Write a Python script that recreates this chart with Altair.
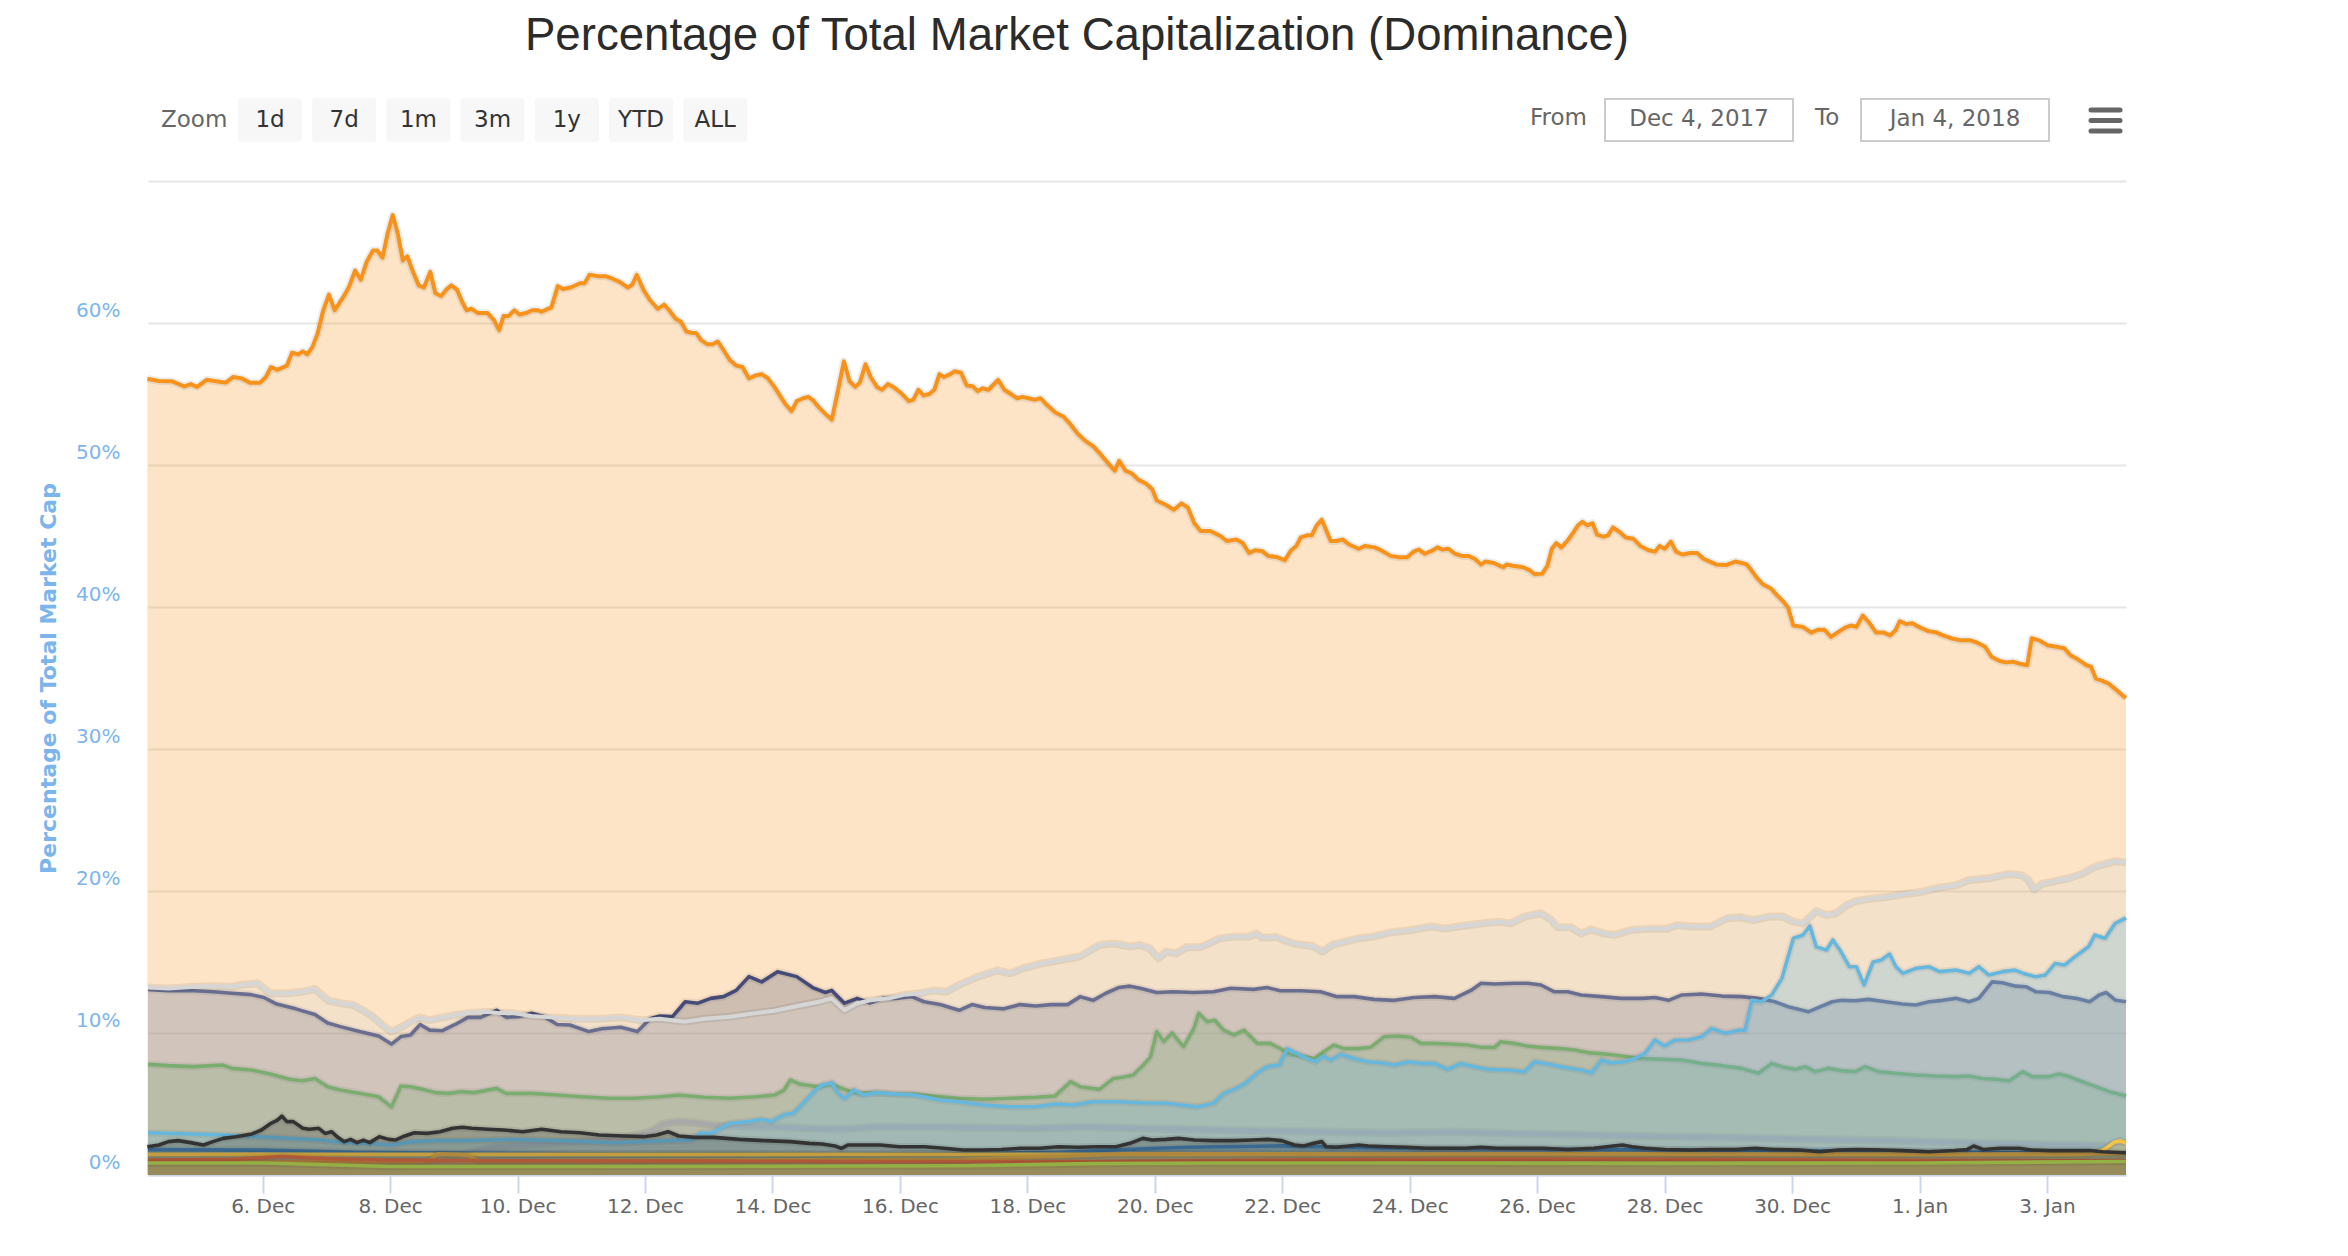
import altair as alt
import pandas as pd

# ---------------- data (days since 2017-12-04 00:00 UTC, percent of total market cap) -------------
btc_days = [0.19,0.37,0.57,0.77,0.87,0.97,1.12,1.27,1.42,1.54,1.67,1.80,1.96,2.05,2.13,2.23,2.38,2.46,2.56,2.63,
            2.70,2.78,2.86,2.95,3.04,3.13,3.26,3.35,3.45,3.54,3.63,3.73,3.80,3.88,3.96,4.04,4.12,4.20,4.27,4.36,
            4.45,4.53,4.63,4.71,4.80,4.88,4.96,5.05,5.13,5.20,5.28,5.38,5.53,5.63,5.71,5.78,5.86,5.95,6.03,6.13,
            6.23,6.31,6.38,6.53,6.63,6.71,6.83,6.98,7.05,7.13,7.26,7.38,7.50,7.60,7.73,7.80,7.87,7.98,8.08,8.20,
            8.30,8.38,8.48,8.56,8.65,8.74,8.80,8.88,8.98,9.06,9.14,9.23,9.33,9.43,9.53,9.63,9.73,9.83,9.93,10.03,
            10.13,10.21,10.30,10.38,10.48,10.56,10.64,10.74,10.83,10.93,11.03,11.12,11.21,11.30,11.37,11.46,11.54,11.64,11.72,11.81,
            11.91,12.01,12.14,12.21,12.29,12.37,12.46,12.54,12.62,12.69,12.79,12.86,12.96,13.05,13.14,13.22,13.29,13.39,13.54,13.64,
            13.74,13.84,13.92,14.02,14.11,14.21,14.29,14.44,14.57,14.67,14.79,14.91,15.04,15.14,15.27,15.37,15.44,15.54,15.64,15.74,
            15.86,15.96,16.03,16.17,16.30,16.42,16.52,16.62,16.72,16.87,17.03,17.13,17.28,17.38,17.48,17.58,17.68,17.78,17.93,18.04,
            18.14,18.22,18.29,18.39,18.46,18.54,18.62,18.69,18.76,18.84,18.95,19.05,19.20,19.30,19.45,19.55,19.70,19.83,19.96,20.06,
            20.14,20.24,20.34,20.44,20.51,20.61,20.71,20.82,20.92,21.02,21.12,21.19,21.32,21.42,21.47,21.52,21.62,21.78,21.88,21.96,
            22.08,22.16,22.23,22.30,22.38,22.48,22.56,22.64,22.71,22.79,22.87,22.94,23.04,23.11,23.19,23.29,23.39,23.51,23.62,23.75,
            23.85,23.92,24.00,24.10,24.18,24.28,24.40,24.51,24.61,24.71,24.81,24.96,25.11,25.21,25.29,25.36,25.44,25.54,25.67,25.77,
            25.87,25.94,26.02,26.17,26.30,26.41,26.51,26.61,26.71,26.83,26.93,27.01,27.11,27.21,27.32,27.44,27.54,27.62,27.69,27.79,
            27.89,27.99,28.14,28.27,28.37,28.50,28.65,28.80,28.90,29.03,29.13,29.26,29.36,29.46,29.58,29.69,29.76,29.88,30.01,30.15,
            30.27,30.37,30.49,30.62,30.69,30.77,30.87,30.97,31.08,31.18,31.24]
btc_pct = [56.08,55.92,55.9,55.54,55.7,55.5,56.0,55.9,55.8,56.2,56.1,55.8,55.8,56.2,56.9,56.7,57.0,57.9,57.8,58.0,
           57.8,58.3,59.25,60.9,62.0,60.9,61.8,62.5,63.7,63.05,64.3,65.1,65.1,64.6,66.3,67.6,66.3,64.4,64.7,63.6,
           62.65,62.5,63.6,62.1,61.9,62.35,62.65,62.35,61.5,60.9,61.0,60.7,60.7,60.2,59.5,60.5,60.5,60.9,60.6,60.7,
           60.9,60.9,60.8,61.1,62.6,62.4,62.5,62.8,62.8,63.4,63.3,63.3,63.1,62.9,62.5,62.7,63.4,62.3,61.6,61.0,
           61.3,60.9,60.3,60.1,59.4,59.3,59.3,58.8,58.5,58.5,58.7,58.1,57.4,57.0,56.9,56.1,56.3,56.4,56.1,55.5,
           54.8,54.25,53.8,54.5,54.7,54.8,54.55,54.0,53.6,53.2,55.3,57.3,55.9,55.5,55.8,57.1,56.2,55.5,55.3,55.7,
           55.45,55.1,54.5,54.6,55.3,54.9,55.0,55.3,56.4,56.2,56.4,56.6,56.5,55.6,55.55,55.2,55.4,55.3,56.0,55.3,
           55.0,54.7,54.8,54.7,54.6,54.7,54.3,53.7,53.4,52.9,52.2,51.7,51.3,50.8,50.1,49.6,50.3,49.6,49.4,48.97,
           48.7,48.3,47.5,47.2,46.85,47.3,47.0,45.9,45.35,45.35,45.0,44.65,44.75,44.5,43.8,44.0,43.95,43.6,43.5,43.3,
           44.0,44.3,44.9,45.05,45.05,45.75,46.15,45.4,44.65,44.65,44.75,44.4,44.1,44.3,44.2,44.0,43.6,43.5,43.5,43.9,
           44.05,43.75,43.95,44.2,44.05,44.1,43.75,43.6,43.6,43.4,43.0,43.2,43.1,42.9,42.8,43.0,42.9,42.8,42.6,42.3,
           42.35,42.9,44.1,44.5,44.2,44.7,45.2,45.75,46.0,45.75,45.9,45.1,44.95,45.05,45.6,45.3,44.9,44.8,44.3,44.0,
           43.9,44.3,44.1,44.6,43.9,43.7,43.8,43.8,43.4,43.2,43.0,42.95,43.2,43.1,43.0,42.6,42.1,41.6,41.3,40.8,
           40.35,39.95,38.7,38.6,38.2,38.4,38.4,37.9,38.2,38.55,38.7,38.6,39.4,38.9,38.2,38.2,38.0,38.35,39.0,38.8,
           38.85,38.6,38.3,38.2,38.0,37.8,37.65,37.65,37.5,37.2,36.5,36.2,36.1,36.15,36.0,35.9,37.8,37.65,37.3,37.2,
           37.1,36.6,36.3,35.9,35.8,34.95,34.8,34.6,34.2,33.8,33.6]

oth_days = [0.20,0.52,0.92,1.22,1.52,1.67,1.92,2.12,2.42,2.62,2.82,3.02,3.22,3.42,3.57,3.72,3.87,4.02,4.17,4.32,
            4.47,4.62,4.82,5.02,5.22,5.52,5.72,5.92,6.22,6.52,6.92,7.32,7.62,7.93,8.23,8.63,8.93,9.33,9.73,10.03,
            10.33,10.73,10.93,11.13,11.33,11.53,11.83,12.08,12.33,12.53,12.73,12.93,13.23,13.53,13.73,13.93,14.23,14.53,14.83,15.13,
            15.38,15.61,15.76,15.92,16.06,16.18,16.34,16.49,16.70,16.86,17.01,17.22,17.48,17.59,17.69,17.90,18.05,18.21,18.47,18.63,
            18.78,18.99,19.20,19.41,19.72,20.03,20.34,20.55,20.76,21.07,21.39,21.59,21.80,22.06,22.22,22.32,22.53,22.69,22.84,23.05,
            23.21,23.47,23.78,24.04,24.20,24.40,24.72,24.98,25.18,25.39,25.65,25.86,26.02,26.17,26.38,26.54,26.69,26.85,27.01,27.27,
            27.53,27.79,28.05,28.26,28.57,28.78,29.09,29.40,29.61,29.71,29.80,29.92,30.13,30.34,30.55,30.75,31.07,31.24]
oth_pct = [13.2,13.14,13.26,13.3,13.26,13.4,13.5,12.8,12.8,12.9,13.1,12.3,12.1,11.97,11.6,11.2,10.6,10.09,10.4,10.8,
           11.1,10.9,11.1,11.27,11.4,11.5,11.4,11.4,11.2,11.1,11.0,11.0,11.1,10.9,11.0,10.8,11.0,11.15,11.4,11.57,
           11.85,12.2,12.44,11.6,12.1,12.3,12.44,12.7,12.8,13.0,12.9,13.4,13.97,14.4,14.2,14.55,14.9,15.14,15.4,16.2,
           16.3,16.08,16.2,15.96,15.26,15.73,15.6,16.03,16.03,16.3,16.65,16.77,16.8,17.0,16.7,16.77,16.5,16.27,16.13,15.73,
           16.2,16.43,16.67,16.77,17.1,17.25,17.5,17.35,17.5,17.68,17.84,17.72,18.2,18.43,17.96,17.44,17.44,17.0,17.3,17.0,
           16.9,17.25,17.35,17.35,17.6,17.5,17.5,18.08,18.15,17.96,18.2,18.2,17.84,17.72,18.6,18.3,18.43,19.0,19.3,19.48,
           19.6,19.8,19.95,20.2,20.4,20.77,20.9,21.2,21.1,20.77,20.1,20.5,20.7,20.9,21.2,21.7,22.1,22.0]

eth_days = [0.20,0.52,0.92,1.22,1.52,1.82,2.02,2.22,2.52,2.82,3.02,3.22,3.52,3.82,4.02,4.17,4.32,4.47,4.62,4.82,
            5.02,5.22,5.42,5.67,5.82,6.02,6.22,6.42,6.62,6.82,7.12,7.32,7.62,7.88,8.08,8.23,8.43,8.63,8.83,9.03,
            9.23,9.43,9.63,9.83,10.08,10.38,10.63,10.83,10.93,11.13,11.33,11.53,11.73,11.93,12.18,12.38,12.63,12.93,13.13,13.33,
            13.63,13.88,14.13,14.38,14.63,14.83,15.03,15.23,15.43,15.61,15.77,16.03,16.29,16.61,16.92,17.19,17.55,17.76,17.97,18.29,
            18.60,18.86,19.13,19.44,19.76,20.07,20.39,20.70,20.96,21.12,21.33,21.64,21.85,22.06,22.27,22.48,22.69,23.01,23.32,23.64,
            23.85,24.06,24.27,24.58,24.90,25.21,25.47,25.73,25.94,26.10,26.26,26.42,26.63,26.78,26.99,27.20,27.47,27.73,27.94,28.15,
            28.36,28.57,28.78,28.93,29.14,29.30,29.51,29.67,29.83,30.04,30.25,30.46,30.67,30.82,30.93,31.08,31.24]
eth_pct = [13.07,12.98,12.98,12.9,12.8,12.7,12.5,12.04,11.7,11.3,10.7,10.45,10.1,9.79,9.22,9.75,9.86,10.6,10.2,10.16,
           10.6,11.1,11.1,11.6,11.1,11.15,11.4,11.15,10.6,10.56,10.1,10.3,10.4,10.1,11.0,11.2,11.15,12.2,12.1,12.44,
           12.56,13.0,13.97,13.6,14.32,13.97,13.2,12.85,13.0,12.1,12.44,12.1,12.44,12.44,12.56,12.2,12.0,11.6,12.0,11.8,
           11.7,12.0,11.9,12.0,12.0,12.56,12.3,12.8,13.2,13.3,13.15,12.85,12.9,12.85,12.9,13.15,13.07,13.2,12.98,12.98,
           12.9,12.56,12.56,12.37,12.3,12.5,12.56,12.44,13.0,13.5,13.45,13.5,13.5,13.38,12.9,12.9,12.68,12.56,12.44,12.44,
           12.5,12.3,12.68,12.75,12.6,12.56,12.44,12.2,11.85,11.67,11.5,11.8,12.2,12.3,12.27,12.37,12.2,12.04,11.97,12.2,
           12.3,12.44,12.2,12.44,13.6,13.54,13.3,13.26,12.9,12.85,12.56,12.44,12.2,12.68,12.85,12.3,12.2]

bch_days = [0.20,0.52,0.92,1.37,1.52,1.82,2.12,2.42,2.62,2.82,3.02,3.22,3.52,3.82,4.02,4.17,4.32,4.52,4.72,4.92,
            5.12,5.32,5.67,5.82,6.22,6.62,7.02,7.42,7.83,8.23,8.53,8.93,9.33,9.73,10.03,10.18,10.28,10.43,10.73,10.93,
            11.13,11.33,11.63,11.93,12.23,12.53,12.93,13.33,13.73,14.13,14.43,14.68,14.83,15.13,15.35,15.51,15.66,15.82,15.93,16.03,
            16.14,16.27,16.45,16.61,16.69,16.82,16.94,17.08,17.24,17.40,17.61,17.81,17.97,18.13,18.29,18.50,18.65,18.81,18.97,19.18,
            19.39,19.60,19.81,20.02,20.18,20.39,20.65,20.91,21.12,21.33,21.43,21.64,21.85,22.06,22.38,22.59,22.80,23.11,23.43,23.64,
            23.95,24.27,24.58,24.90,25.21,25.47,25.68,25.84,26.05,26.21,26.36,26.57,26.78,26.99,27.15,27.36,27.62,27.94,28.25,28.57,
            28.78,28.99,29.20,29.41,29.62,29.77,30.04,30.19,30.35,30.56,30.77,30.98,31.19,31.24]
bch_pct = [7.79,7.7,7.63,7.75,7.51,7.4,7.11,6.74,6.64,6.8,6.22,5.98,5.75,5.51,4.8,6.27,6.22,6.03,5.8,5.75,
           5.87,5.8,6.1,5.75,5.75,5.63,5.51,5.4,5.4,5.51,5.63,5.47,5.4,5.51,5.63,5.98,6.69,6.4,6.22,6.4,
           6.03,5.75,5.8,5.7,5.7,5.56,5.4,5.33,5.4,5.47,5.56,6.57,6.22,6.03,6.8,6.9,7.04,7.75,8.3,10.09,
           9.4,10.0,9.04,10.3,11.39,10.8,10.9,10.2,9.86,10.2,9.27,9.27,8.9,8.47,8.4,8.2,8.68,9.15,8.9,8.9,
           9.0,9.74,9.79,9.7,9.27,9.27,9.22,9.15,9.0,8.99,9.39,9.27,9.08,8.99,8.9,8.8,8.62,8.5,8.33,8.2,
           8.15,8.1,7.86,7.7,7.51,7.17,7.86,7.63,7.44,7.63,7.28,7.51,7.35,7.28,7.63,7.28,7.17,7.04,6.97,6.93,
           6.97,6.8,6.74,6.64,7.28,6.93,6.93,7.11,6.93,6.57,6.22,5.87,5.63,5.55]

xrp_days = [0.20,0.92,1.42,1.92,2.42,2.92,3.32,3.72,4.02,4.32,4.72,5.12,5.52,5.92,6.32,6.72,7.12,7.52,7.93,8.33,
            8.73,8.88,9.03,9.18,9.33,9.63,9.83,9.98,10.18,10.33,10.48,10.68,10.78,10.93,11.03,11.13,11.28,11.43,11.63,11.93,
            12.23,12.63,12.93,13.33,13.73,14.13,14.43,14.73,15.03,15.45,15.77,16.19,16.66,16.92,17.08,17.24,17.40,17.61,17.76,17.95,
            18.08,18.23,18.39,18.52,18.65,18.76,18.92,19.13,19.34,19.55,19.76,19.97,20.18,20.39,20.59,20.80,21.01,21.22,21.54,21.80,
            21.96,22.17,22.38,22.69,22.85,23.01,23.16,23.37,23.53,23.69,23.85,24.00,24.16,24.37,24.58,24.74,24.95,25.16,25.26,25.37,
            25.52,25.68,25.84,26.02,26.17,26.28,26.38,26.54,26.64,26.75,26.90,27.01,27.13,27.27,27.40,27.53,27.63,27.74,27.94,28.15,
            28.31,28.57,28.78,28.93,29.09,29.30,29.50,29.66,29.82,29.97,30.13,30.28,30.44,30.65,30.75,30.91,31.07,31.24]
xrp_pct = [2.98,2.89,2.82,2.7,2.58,2.46,2.27,2.23,2.11,2.35,2.42,2.42,2.46,2.51,2.46,2.42,2.35,2.27,2.35,2.42,
           2.46,2.98,2.93,3.29,3.64,3.76,3.92,3.76,4.24,4.36,5.05,6.0,6.34,6.5,5.75,5.4,6.0,5.63,5.8,5.7,
           5.63,5.28,5.16,4.93,4.81,4.81,5.0,4.93,5.16,5.16,5.09,5.05,4.81,5.05,5.75,6.03,6.4,7.2,7.63,7.75,
           8.9,8.57,8.2,7.98,8.38,8.1,8.5,8.2,7.98,7.9,7.75,7.98,7.86,7.86,7.44,7.86,7.63,7.44,7.39,7.28,
           7.98,7.82,7.63,7.39,7.2,8.1,7.9,7.98,8.2,8.57,9.51,9.09,9.51,9.51,9.74,10.33,9.98,10.2,10.2,12.32,
           12.2,12.68,13.85,16.67,16.9,17.54,16.07,15.85,16.55,15.85,14.67,14.67,13.38,15.0,15.14,15.56,14.67,14.2,14.55,14.67,
           14.32,14.43,14.2,14.67,14.08,14.32,14.43,14.15,13.96,14.08,14.9,14.79,15.38,16.07,16.9,16.67,17.72,18.1]

blk_days = [0.19,0.37,0.52,0.67,0.87,1.07,1.22,1.38,1.58,1.83,1.98,2.13,2.23,2.30,2.38,2.48,2.63,2.73,2.88,2.98,
            3.08,3.18,3.28,3.38,3.48,3.58,3.68,3.83,3.98,4.08,4.23,4.38,4.58,4.78,4.98,5.13,5.28,5.53,5.78,6.08,
            6.38,6.68,6.98,7.28,7.68,7.98,8.18,8.36,8.53,8.78,9.08,9.48,9.88,10.28,10.58,10.78,10.98,11.08,11.18,11.39,
            11.69,11.99,12.39,12.69,12.99,13.29,13.59,13.89,14.19,14.49,14.79,15.09,15.39,15.61,15.81,15.96,16.17,16.37,16.62,16.92,
            17.23,17.53,17.78,17.99,18.19,18.34,18.49,18.62,18.69,18.84,19.05,19.20,19.35,19.65,19.96,20.26,20.56,20.87,21.12,21.37,
            21.68,22.08,22.48,22.89,23.19,23.34,23.49,23.70,24.00,24.40,24.71,25.11,25.42,25.72,26.12,26.43,26.73,27.03,27.44,27.74,
            28.14,28.55,28.75,28.85,29.00,29.26,29.56,29.76,30.06,30.37,30.67,30.87,31.18,31.24]
blk_pct = [1.99,2.11,2.35,2.42,2.28,2.11,2.35,2.58,2.7,2.89,3.17,3.64,3.87,4.15,3.76,3.76,3.29,3.22,3.29,2.93,
           3.05,2.65,2.35,2.51,2.28,2.46,2.28,2.7,2.51,2.46,2.75,2.98,2.93,3.05,3.29,3.36,3.29,3.22,3.17,3.05,
           3.22,3.05,2.98,2.82,2.75,2.7,2.82,3.05,2.75,2.65,2.65,2.51,2.42,2.35,2.23,2.18,2.04,1.88,2.11,2.11,
           2.11,1.99,1.99,1.88,1.76,1.76,1.8,1.88,1.88,1.99,1.95,1.99,1.99,2.23,2.58,2.46,2.51,2.58,2.46,2.42,
           2.42,2.46,2.51,2.42,2.11,2.04,2.23,2.35,1.99,1.95,2.04,2.11,2.04,1.99,1.95,1.88,1.88,1.88,1.95,1.88,
           1.88,1.88,1.8,1.88,2.04,2.11,1.99,1.88,1.8,1.76,1.8,1.8,1.88,1.8,1.76,1.64,1.76,1.8,1.76,1.72,
           1.64,1.72,1.8,2.04,1.8,1.88,1.88,1.76,1.72,1.72,1.72,1.64,1.57,1.57]

gry_days = [0.20,2.0,4.0,4.58,4.88,5.28,5.68,6.08,6.48,6.88,7.28,7.68,7.98,8.13,8.28,8.48,8.78,9.08,9.58,10.08,
            10.58,11.09,11.59,12.09,13.09,14.09,14.89,15.77,17.63,19.65,20.66,21.68,23.70,25.72,27.74,28.75,29.76,31.24]
gry_pct = [0.6,0.6,0.6,0.7,1.05,1.64,1.99,2.11,2.23,2.35,2.46,2.65,2.93,3.17,3.6,3.76,3.69,3.52,3.45,3.4,
           3.29,3.22,3.4,3.4,3.36,3.29,3.4,3.29,3.12,2.98,3.05,2.93,2.75,2.58,2.42,2.28,2.18,2.04]

blu_days = [0.20,2.0,3.5,5.0,7.0,9.0,11.0,13.0,14.5,15.5,16.5,18.0,19.5,21.0,23.0,25.0,27.0,29.0,31.24]
blu_pct = [1.8,1.75,1.6,1.55,1.5,1.5,1.45,1.5,1.6,1.8,1.95,2.05,1.9,1.85,1.8,1.75,1.7,1.6,1.5]

ylw_days = [0.20,30.5,30.7,30.9,31.05,31.15,31.24]
ylw_pct = [1.45,1.45,1.5,1.8,2.3,2.4,2.25]

gld_days = [0.20,4.6,4.75,4.95,5.2,5.4,9.0,13.0,14.5,15.5,17.0,20.0,23.0,26.0,29.0,30.8,31.24]
gld_pct = [0.9,0.95,1.5,1.45,1.4,1.0,1.05,1.1,1.3,1.5,1.5,1.45,1.5,1.45,1.45,1.5,1.5]

red_days = [0.20,1.5,2.3,3.0,4.0,6.0,9.0,12.0,15.0,18.0,21.0,24.0,27.0,30.0,31.24]
red_pct = [1.05,1.1,1.3,1.15,1.05,1.0,0.98,0.95,0.95,1.05,1.12,1.1,1.05,1.0,1.0]

ygn_days = [0.20,2.0,4.0,7.0,10.0,13.0,15.0,17.0,20.0,24.0,28.0,31.24]
ygn_pct = [0.85,0.85,0.6,0.6,0.62,0.65,0.8,0.85,0.85,0.82,0.85,0.95]

x_tick_days = [2, 4, 6, 8, 10, 12, 14, 16, 18, 20, 22, 24, 26, 28, 30]
y_ticks = [0, 10, 20, 30, 40, 50, 60, 70]
zoom_buttons = ["1d", "7d", "1m", "3m", "1y", "YTD", "ALL"]

# ---------------- helpers ----------------
BASE = pd.Timestamp("2017-12-04T00:00:00Z")


def to_ms(days):
    return [int((BASE + pd.Timedelta(days=float(d))).value // 10**6) for d in days]


X_DOMAIN = to_ms([0.2, 31.24])
x_axis = alt.Axis(values=to_ms(x_tick_days), labelExpr="utcFormat(datum.value, '%-d. %b')",
                  title=None, grid=False, domainColor="#ccd6eb", domainWidth=2,
                  tickColor="#ccd6eb", tickWidth=2, tickSize=18, labelFontSize=20,
                  labelFont="DejaVu Sans", labelColor="#666666", labelPadding=3,
                  labelFlush=False, labelOverlap=False)
y_axis = alt.Axis(values=y_ticks, labelExpr="datum.value >= 70 ? '' : datum.value + '%'",
                  title="Percentage of Total Market Cap", titleColor="#7cb5ec",
                  titleFont="DejaVu Sans", titleFontSize=22, titleFontWeight="bold",
                  titleX=-100, titleY=497, titleBaseline="middle",
                  grid=True, gridColor="#e6e6e6", gridWidth=2, domain=False, ticks=False,
                  labelColor="#7cb5ec", labelFontSize=20, labelFont="DejaVu Sans",
                  labelPadding=28, labelOffset=-13, labelBaseline="middle")

X = alt.X("t:T", scale=alt.Scale(type="utc", domain=X_DOMAIN), axis=x_axis)
Y = alt.Y("pct:Q", scale=alt.Scale(domain=[0, 70], nice=False, zero=True), axis=y_axis)


def series(days, pct, color, width=3.6, fill_op=0.25):
    df = pd.DataFrame({"t": to_ms(days), "pct": pct})
    base = alt.Chart(df)
    area = base.mark_area(color=color, opacity=fill_op, interpolate="linear").encode(x=X, y=Y)
    shadow = base.mark_line(color="#000000", opacity=0.07, strokeWidth=width + 4,
                            strokeJoin="round").encode(x=X, y=Y)
    line = base.mark_line(color=color, strokeWidth=width, strokeJoin="round").encode(x=X, y=Y)
    return [area, shadow, line]


ONE = pd.DataFrame({"k": [0]})


def txt(s, x, y, size, color, font="DejaVu Sans", align="left", weight="normal"):
    return alt.Chart(ONE).mark_text(text=s, align=align, baseline="middle", fontSize=size,
                                    color=color, font=font, fontWeight=weight).encode(
        x=alt.value(x), y=alt.value(y))


def rect(x, x2, y, y2, fill, stroke=None, sw=0, r=0):
    kw = dict(fill=fill, cornerRadius=r)
    if stroke:
        kw.update(stroke=stroke, strokeWidth=sw)
    return alt.Chart(ONE).mark_rect(**kw).encode(
        x=alt.value(x), x2=alt.value(x2), y=alt.value(y), y2=alt.value(y2))


def bar(x, x2, y, color, w):
    return alt.Chart(ONE).mark_rule(color=color, strokeWidth=w, strokeCap="round").encode(
        x=alt.value(x), x2=alt.value(x2), y=alt.value(y))


# ---------------- layers ----------------
layers = []
layers += series(btc_days, btc_pct, "#f7931a", width=4)
layers += series(eth_days, eth_pct, "#454a78")
layers += series(bch_days, bch_pct, "#5d9f4e")
layers += series(gry_days, gry_pct, "#9a9a9a", width=4.5)
layers += series(xrp_days, xrp_pct, "#41ade0")
layers += series(oth_days, oth_pct, "#d6d6d6", width=4)
layers += series(blu_days, blu_pct, "#3b7bb0")
layers += series(ylw_days, ylw_pct, "#f5c242")
layers += series(gld_days, gld_pct, "#d9a441")
layers += series(red_days, red_pct, "#d8663a")
layers += series(ygn_days, ygn_pct, "#b4d84a")
layers += series(blk_days, blk_pct, "#333333")

# header: title, range selector, date inputs, menu icon (pixel positions relative to plot origin)
layers.append(txt("Percentage of Total Market Capitalization (Dominance)", 929, -145, 45.6,
                  "#2b2b2b", font="Liberation Sans", align="center"))
layers.append(txt("Zoom", 13, -61, 23, "#666666"))
for i, lab in enumerate(zoom_buttons):
    x0 = 90 + i * 74.2
    layers.append(rect(x0, x0 + 64, -83, -39, "#f7f7f7", r=3))
    layers.append(txt(lab, x0 + 32, -61, 23, "#333333", align="center"))
layers.append(txt("From", 1382, -63, 23, "#666666"))
layers.append(rect(1457, 1645, -82, -40, "#ffffff", stroke="#cccccc", sw=2))
layers.append(txt("Dec 4, 2017", 1551, -62, 23, "#666666", align="center"))
layers.append(txt("To", 1667, -63, 23, "#666666"))
layers.append(rect(1713, 1901, -82, -40, "#ffffff", stroke="#cccccc", sw=2))
layers.append(txt("Jan 4, 2018", 1807, -62, 23, "#666666", align="center"))
for yy in (-71, -60.5, -50):
    layers.append(bar(1943, 1972, yy, "#666666", 5))

chart = alt.layer(*layers).properties(
    width=1978, height=994,
    padding={"left": 140, "top": 173, "right": 30, "bottom": 70},
    autosize=alt.AutoSizeParams(type="none"),
    background="#ffffff",
).configure_view(stroke=None)

chart.save("out.html", embed_options={"renderer": "svg", "actions": False})
